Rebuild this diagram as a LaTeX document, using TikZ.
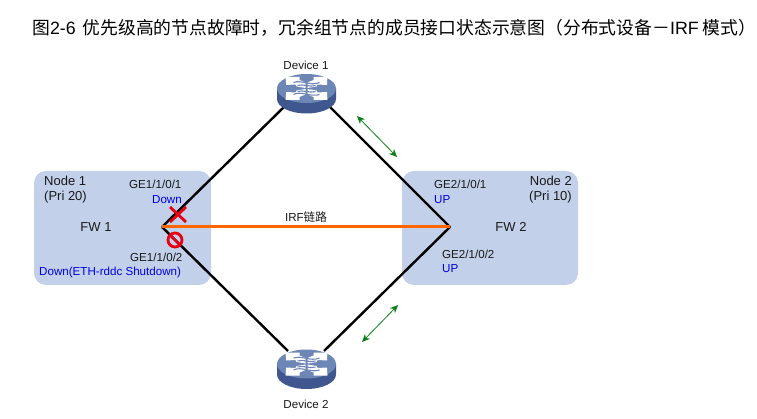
\documentclass[tikz,border=0pt]{standalone}
\usepackage{fontspec}
\setmainfont{Liberation Sans}
\newfontfamily\cjk{Noto Sans CJK SC}
\usetikzlibrary{arrows.meta}
\definecolor{nodefill}{HTML}{C2D0E9}
\definecolor{swtop}{HTML}{6C86B6}
\definecolor{swside}{HTML}{40568F}
\definecolor{portblue}{HTML}{0000E6}
\definecolor{linkorange}{HTML}{FF6600}
\definecolor{flowgreen}{HTML}{0B7F16}
\definecolor{alarmred}{HTML}{E60012}
\tikzset{
  x=1pt,y=-1pt,
  nodebox/.style={fill=nodefill,rounded corners=12pt},
  lbl/.style={inner sep=0pt,font=\fontsize{11.6}{13}\selectfont,text=black!90},
  biglbl/.style={lbl,font=\fontsize{13}{15}\selectfont,align=left},
  portlbl/.style={lbl,text=portblue},
  wire/.style={line width=2.4pt,draw=black},
  flow/.style={draw=flowgreen,line width=.8pt,{Stealth[length=8pt,width=7pt]}-{Stealth[length=8pt,width=7pt]}},
  mark red/.style={draw=alarmred,line width=2.8pt},
  sw arm/.style={fill=white,draw=none},
  switchicon/.pic={
    \fill[swside] (-29.5,0) -- (-29.5,10.5) arc[x radius=29.5,y radius=-14.5,start angle=180,end angle=360] -- (29.5,0) -- cycle;
    \fill[swtop] (0,0) ellipse[x radius=29.5,y radius=14.5];
    \foreach \sx in {-1,1}{\foreach \sy in {-1,1}{
      \fill[sw arm] (\sx*1,\sy*0.5) -- (\sx*10,\sy*2) -- (\sx*11,\sy*4) -- (\sx*20.5,\sy*3.5) -- (\sx*20.5,\sy*6) -- (\sx*21,\sy*11.5) -- (\sx*7,\sy*11.5) -- (\sx*7,\sy*8.5) -- (\sx*1,\sy*6) -- cycle;
    }}
    \draw[swtop,line width=1.1pt] (-13,-6) .. controls (-5,-9) and (4,-2) .. (13,-6);
    \draw[swtop,line width=1.1pt] (-13,6) .. controls (-5,2) and (4,9) .. (13,6);
    \draw[swtop,line width=1.1pt] (-9,-3) .. controls (-3,-5) and (3,-1) .. (9,-3);
    \draw[swtop,line width=1.1pt] (-9,3) .. controls (-3,1) and (3,5) .. (9,3);
  },
}
\begin{document}
\begin{tikzpicture}
\useasboundingbox (0,0) rectangle (757,419);
\fill[white] (0,0) rectangle (757,419);
\node[anchor=base west,inner sep=0pt,font=\fontsize{17.8}{20}\selectfont,text=black] (title) at (32,35)
  {{\cjk 图}2-6\hspace{7pt}{\cjk 优先级高的节点故障时，冗余组节点的成员接口状态示意图（分布式设备－}IRF{\hspace{4pt}\cjk 模式）}};
\node[nodebox,minimum width=177pt,minimum height=114pt,inner sep=0pt] (node1) at (122.5,228) {};
\node[nodebox,minimum width=176pt,minimum height=114pt,inner sep=0pt] (node2) at (490,228) {};
\coordinate (p1) at (162,227);
\coordinate (p2) at (450,227);
\coordinate (d1l) at (285,106);
\coordinate (d1r) at (329,106);
\coordinate (d2l) at (288,351);
\coordinate (d2r) at (324,351);
\draw[wire] (p1) -- (d1l);
\draw[wire] (p2) -- (d1r);
\draw[wire] (p1) -- (d2l);
\draw[wire] (p2) -- (d2r);
\draw[line width=3pt,draw=linkorange] (p1) -- node[lbl,above=3.5pt,pos=.5] (irf) {IRF{\cjk 链路}} (p2);
\pic at (306.5,88.5) {switchicon};
\pic at (306.5,364) {switchicon};
\node[lbl] (dev1) at (306,65) {Device 1};
\node[lbl] (dev2) at (306,404) {Device 2};
\coordinate (a1) at (357,116);
\coordinate (a2) at (397,157);
\coordinate (a3) at (398,305);
\coordinate (a4) at (362,342);
\draw[flow] (a1) -- (a2);
\draw[flow] (a3) -- (a4);
\node[biglbl,anchor=north west] (n1) at (44,175.5) {Node 1\\(Pri 20)};
\node[biglbl,anchor=north east,align=right] (n2) at (572,175.5) {Node 2\\(Pri 10)};
\node[biglbl,anchor=center] (fw1) at (96,227) {FW 1};
\node[biglbl,anchor=center] (fw2) at (511,227) {FW 2};
\node[lbl,anchor=base west] (g1) at (129,189) {GE1/1/0/1};
\node[portlbl,anchor=base east] (s1) at (182,204) {Down};
\node[lbl,anchor=base west] (g2) at (130,262) {GE1/1/0/2};
\node[portlbl,anchor=base west] (s2) at (39,276) {Down(ETH-rddc Shutdown)};
\node[lbl,anchor=base west] (g3) at (434,189) {GE2/1/0/1};
\node[portlbl,anchor=base west] (s3) at (434,204) {UP};
\node[lbl,anchor=base west] (g4) at (442,259) {GE2/1/0/2};
\node[portlbl,anchor=base west] (s4) at (442,273) {UP};
\draw[mark red] (170,207) -- (186,222);
\draw[mark red] (186,207) -- (170,222);
\draw[mark red] (175,240) circle[radius=7];
\draw[mark red] (170,235) -- (180,245);
\end{tikzpicture}
\end{document}
